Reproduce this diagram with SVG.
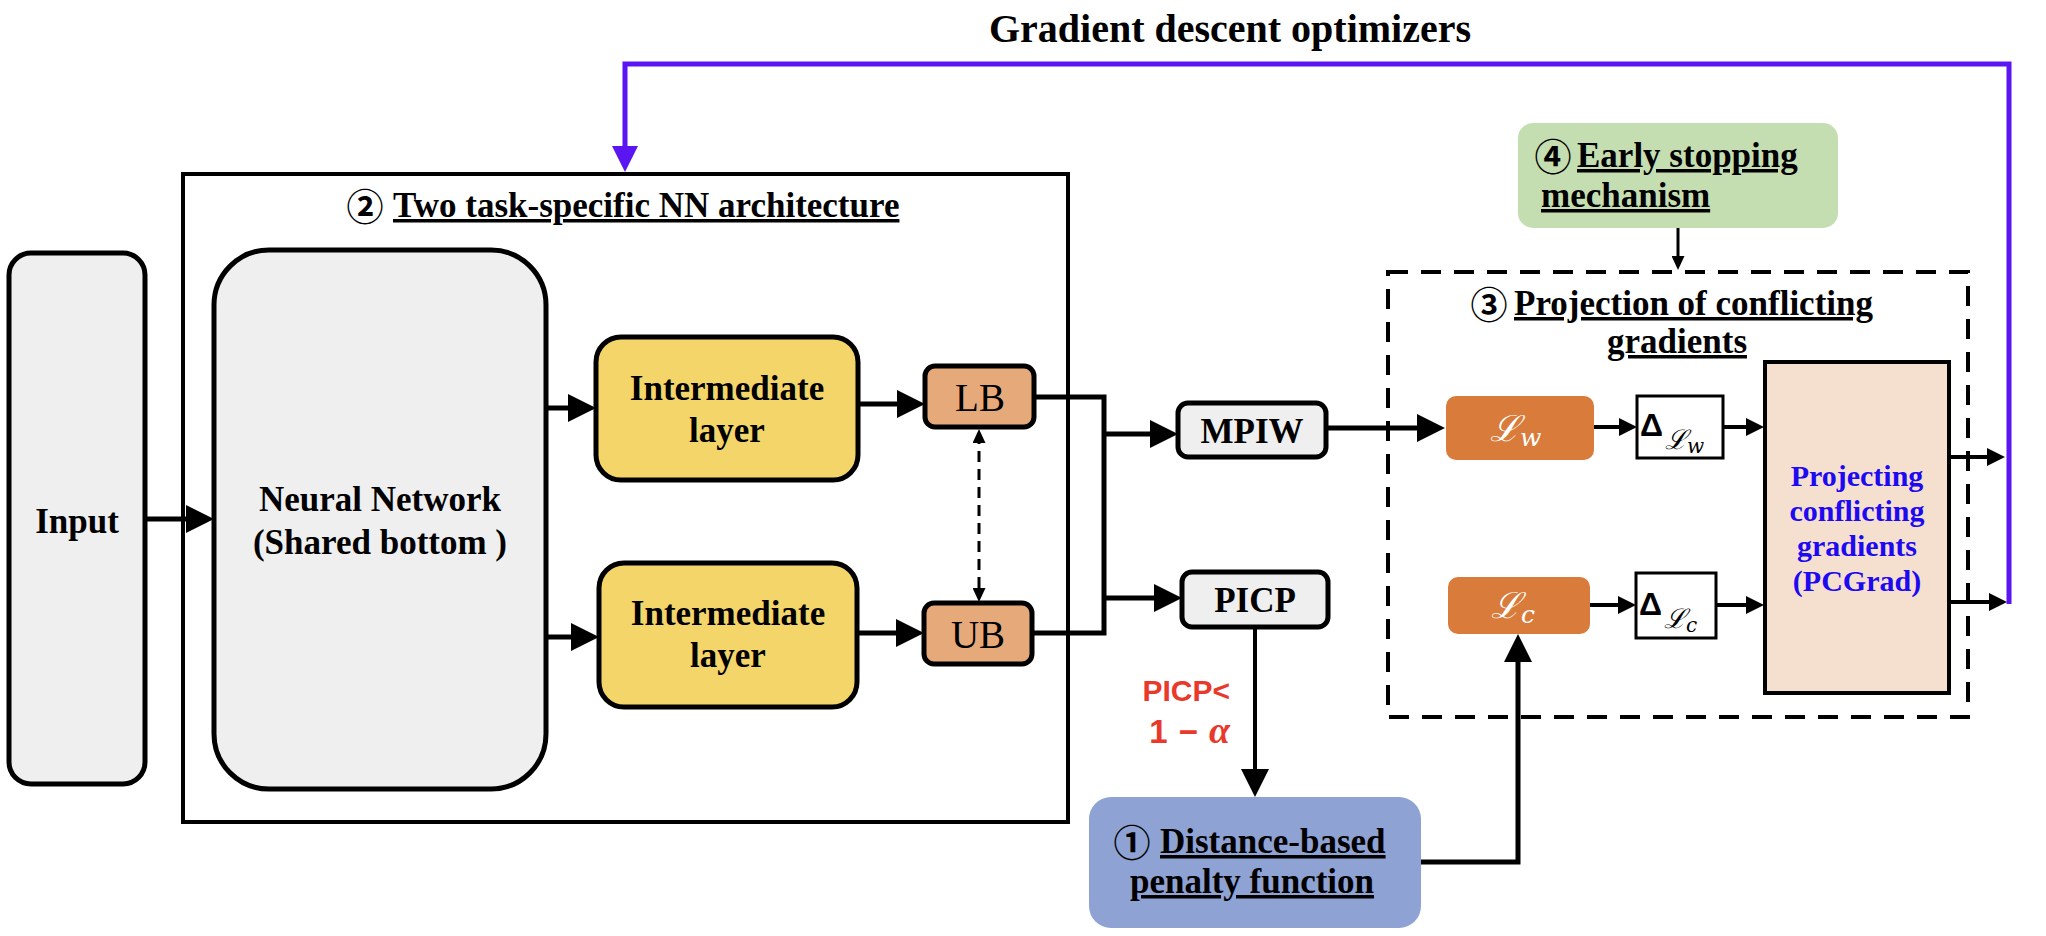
<svg xmlns="http://www.w3.org/2000/svg" width="2046" height="936" viewBox="0 0 2046 936">
<style>
.t{font-family:"Liberation Serif","Times New Roman",serif;font-weight:bold;font-size:35px;fill:#000}
.r{font-family:"Liberation Serif","Times New Roman",serif;font-size:39px;fill:#000}
.u{text-decoration:underline}
.c{font-family:"Noto Sans CJK SC","DejaVu Sans",sans-serif;font-size:37px;font-weight:bold;fill:#000}
.ln{stroke:#000;stroke-width:5;fill:none}
.ln4{stroke:#000;stroke-width:4;fill:none}
.box{stroke:#000;stroke-width:5}
.pc{font-family:"Liberation Serif","Times New Roman",serif;font-weight:bold;font-size:30px;fill:#1e0af0}
.red{font-family:"Liberation Sans",Arial,sans-serif;font-weight:bold;font-size:30px;fill:#e8392b}
.scr{font-family:"DejaVu Serif",serif;font-style:italic}
.dl{font-family:"Liberation Sans",Arial,sans-serif;font-weight:bold;font-size:32px;fill:#000}
</style>
<defs>
<marker id="ab" markerUnits="userSpaceOnUse" viewBox="0 0 28 28" markerWidth="28" markerHeight="28" refX="20" refY="14" orient="auto"><path d="M0,0 L28,14 L0,28 z" fill="#000"/></marker>
<marker id="am" markerUnits="userSpaceOnUse" viewBox="0 0 18 18" markerWidth="18" markerHeight="18" refX="13" refY="9" orient="auto"><path d="M0,0 L18,9 L0,18 z" fill="#000"/></marker>
<marker id="as" markerUnits="userSpaceOnUse" viewBox="0 0 14 13" markerWidth="14" markerHeight="13" refX="10" refY="6.5" orient="auto-start-reverse"><path d="M0,0 L14,6.5 L0,13 z" fill="#000"/></marker>
<marker id="abl" markerUnits="userSpaceOnUse" viewBox="0 0 26 26" markerWidth="26" markerHeight="26" refX="18" refY="13" orient="auto"><path d="M0,0 L26,13 L0,26 z" fill="#5b14f2"/></marker>
</defs>
<rect width="2046" height="936" fill="#fff"/>

<text class="t" x="1230" y="42" text-anchor="middle" style="font-size:40px">Gradient descent optimizers</text>

<g id="outer-box">
<rect x="183" y="174" width="885" height="648" fill="none" stroke="#000" stroke-width="4"/>
<text class="c" x="365" y="221" text-anchor="middle">②</text>
<text class="t u" x="393" y="217">Two task-specific NN architecture</text>
</g>

<g id="input">
<rect class="box" x="9" y="253" width="136" height="531" rx="22" fill="#efefef"/>
<text class="t" x="77" y="533" text-anchor="middle">Input</text>
</g>

<g id="nn">
<rect class="box" x="214" y="250" width="332" height="539" rx="55" fill="#efefef"/>
<text class="t" x="380" y="511" text-anchor="middle">Neural Network</text>
<text class="t" x="380" y="554" text-anchor="middle">(Shared bottom )</text>
</g>

<g id="inter1">
<rect class="box" x="596" y="337" width="262" height="143" rx="25" fill="#f4d56a"/>
<text class="t" x="727" y="400" text-anchor="middle">Intermediate</text>
<text class="t" x="727" y="442" text-anchor="middle">layer</text>
</g>

<g id="inter2">
<rect class="box" x="599" y="563" width="258" height="144" rx="25" fill="#f4d56a"/>
<text class="t" x="728" y="625" text-anchor="middle">Intermediate</text>
<text class="t" x="728" y="667" text-anchor="middle">layer</text>
</g>

<g id="lb">
<rect class="box" x="925" y="366" width="109" height="61" rx="10" fill="#e6aa7a"/>
<text class="r" x="980" y="411" text-anchor="middle">LB</text>
</g>

<g id="ub">
<rect class="box" x="924" y="603" width="108" height="61" rx="10" fill="#e6aa7a"/>
<text class="r" x="978" y="648" text-anchor="middle">UB</text>
</g>

<g id="mpiw">
<rect class="box" x="1178" y="403" width="148" height="54" rx="10" fill="#efefef"/>
<text class="t" x="1252" y="443" text-anchor="middle">MPIW</text>
</g>

<g id="picp">
<rect class="box" x="1182" y="572" width="146" height="55" rx="10" fill="#efefef"/>
<text class="t" x="1255" y="612" text-anchor="middle">PICP</text>
</g>

<g id="condition">
<text class="red" x="1230" y="701" text-anchor="end">PICP&lt;</text>
<text class="red" x="1230" y="743" text-anchor="end" style="font-size:33px">1<tspan dx="11">−</tspan><tspan dx="11" font-family="Liberation Serif, serif" font-style="italic" font-weight="bold" font-size="38">α</tspan></text>
</g>

<g id="penalty">
<rect x="1089" y="797" width="332" height="131" rx="22" fill="#8ea2d4"/>
<text class="c" x="1132" y="857" text-anchor="middle">①</text>
<text class="t u" x="1160" y="853">Distance-based</text>
<text class="t u" x="1252" y="893" text-anchor="middle">penalty function</text>
</g>

<g id="early-stop">
<rect x="1518" y="123" width="320" height="105" rx="15" fill="#c5deb1"/>
<text class="c" x="1553" y="171" text-anchor="middle">④</text>
<text class="t u" x="1577" y="167">Early stopping</text>
<text class="t u" x="1541" y="207">mechanism</text>
</g>

<g id="pcgrad-region">
<rect x="1388" y="272" width="580" height="445" fill="none" stroke="#000" stroke-width="4" stroke-dasharray="20 13"/>
<text class="c" x="1489" y="319" text-anchor="middle">③</text>
<text class="t u" x="1514" y="315">Projection of conflicting</text>
<text class="t u" x="1677" y="353" text-anchor="middle">gradients</text>
</g>

<g id="lw">
<rect x="1446" y="396" width="148" height="64" rx="10" fill="#d97b3a"/>
<text x="1490" y="441" fill="#fff" class="scr" font-size="36">ℒ<tspan font-size="25" dy="5">w</tspan></text>
</g>

<g id="lc">
<rect x="1448" y="577" width="142" height="57" rx="10" fill="#d97b3a"/>
<text x="1491" y="618" fill="#fff" class="scr" font-size="36">ℒ<tspan font-size="25" dy="5">c</tspan></text>
</g>

<g id="dw">
<rect x="1637" y="396" width="86" height="62" fill="#fff" stroke="#000" stroke-width="3"/>
<text class="dl" x="1640" y="436">Δ</text>
<text x="1665" y="449" class="scr" font-size="27">ℒ<tspan font-size="20" dy="4">w</tspan></text>
</g>

<g id="dc">
<rect x="1636" y="573" width="80" height="65" fill="#fff" stroke="#000" stroke-width="3"/>
<text class="dl" x="1639" y="615">Δ</text>
<text x="1664" y="628" class="scr" font-size="27">ℒ<tspan font-size="20" dy="4">c</tspan></text>
</g>

<g id="pcgrad">
<rect x="1765" y="362" width="184" height="331" fill="#f5e0d0" stroke="#000" stroke-width="4"/>
<text class="pc" x="1857" y="486" text-anchor="middle">Projecting</text>
<text class="pc" x="1857" y="521" text-anchor="middle">conflicting</text>
<text class="pc" x="1857" y="556" text-anchor="middle">gradients</text>
<text class="pc" x="1857" y="591" text-anchor="middle">(PCGrad)</text>
</g>

<g id="connectors">
<path class="ln" d="M145 519 H206" marker-end="url(#ab)"/>
<path class="ln" d="M546 408 H588" marker-end="url(#ab)"/>
<path class="ln" d="M546 637 H591" marker-end="url(#ab)"/>
<path class="ln" d="M858 404 H917" marker-end="url(#ab)"/>
<path class="ln" d="M857 633 H916" marker-end="url(#ab)"/>
<path d="M979 433 V598" stroke="#000" stroke-width="3" fill="none" stroke-dasharray="11 7" marker-start="url(#as)" marker-end="url(#as)"/>
<path class="ln" d="M1034 397 H1104 V633 H1032"/>
<path class="ln" d="M1104 434 H1170" marker-end="url(#ab)"/>
<path class="ln" d="M1104 598 H1174" marker-end="url(#ab)"/>
<path class="ln" d="M1326 428 H1437" marker-end="url(#ab)"/>
<path class="ln4" d="M1255 627 V789" marker-end="url(#ab)"/>
<path class="ln" d="M1421 862 H1518 V642" marker-end="url(#ab)"/>
<path class="ln4" d="M1594 427 H1632" marker-end="url(#am)"/>
<path class="ln4" d="M1723 427 H1759" marker-end="url(#am)"/>
<path class="ln4" d="M1590 605 H1631" marker-end="url(#am)"/>
<path class="ln4" d="M1716 605 H1759" marker-end="url(#am)"/>
<path class="ln4" d="M1949 457 H2000" marker-end="url(#am)"/>
<path class="ln4" d="M1949 602 H2002" marker-end="url(#am)"/>
<path d="M1678 228 V266" stroke="#000" stroke-width="3" fill="none" marker-end="url(#as)"/>
<path d="M2009 604 V64 H625 V164" stroke="#5b14f2" stroke-width="5" fill="none" marker-end="url(#abl)"/>
</g>
</svg>
